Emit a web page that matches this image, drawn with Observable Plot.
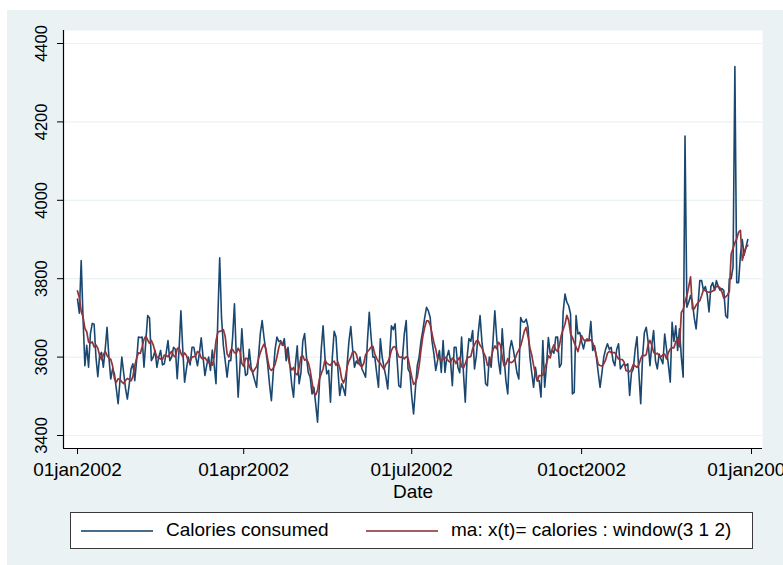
<!DOCTYPE html>
<html><head><meta charset="utf-8">
<script src="https://cdn.jsdelivr.net/npm/d3@7"></script>
<script src="https://cdn.jsdelivr.net/npm/@observablehq/plot@0.6"></script>
<style>
html,body{margin:0;padding:0;background:#fff;width:783px;height:565px;overflow:hidden;}
#bg{position:absolute;left:7px;top:10px;width:800px;height:560px;background:#EAF2F3;}
#chart{position:absolute;left:0;top:0;}
#legend{position:absolute;left:70px;top:512px;width:683px;height:37px;box-sizing:border-box;border:1px solid #3a3a3a;background:#fff;font-family:"Liberation Sans",Arial,sans-serif;font-size:19px;color:#000;}
#legend .sw{position:absolute;top:17px;width:72px;height:0;border-top:2px solid;}
#legend .lb{position:absolute;top:7px;white-space:nowrap;line-height:20px;}
</style>
</head><body>
<div id="bg"></div>
<div id="chart"></div>
<div id="legend"></div>
<script>
// ---- data ----
const startDate = "2002-01-01";
const calories = [
3748,3712,3846,3700,3578,3630,3574,3660,3686,3684,
3600,3550,3605,3612,3574,3620,3676,3600,3544,3570,
3557,3520,3481,3540,3600,3560,3520,3493,3530,3570,
3583,3540,3590,3651,3650,3651,3574,3640,3706,3700,
3591,3600,3617,3574,3600,3617,3580,3583,3610,3642,
3591,3600,3625,3620,3545,3620,3718,3620,3536,3570,
3600,3580,3625,3625,3600,3578,3610,3649,3600,3553,
3580,3600,3566,3618,3580,3532,3700,3853,3700,3629,
3590,3549,3591,3591,3650,3736,3600,3498,3580,3672,
3600,3553,3557,3620,3575,3557,3540,3523,3600,3660,
3693,3650,3617,3580,3530,3489,3560,3620,3651,3640,
3642,3630,3647,3591,3625,3580,3530,3498,3580,3629,
3532,3560,3640,3660,3600,3560,3549,3506,3523,3480,
3434,3530,3620,3680,3600,3557,3566,3485,3600,3666,
3651,3570,3502,3532,3520,3502,3580,3640,3678,3620,
3574,3590,3583,3600,3570,3560,3549,3640,3714,3650,
3600,3600,3560,3523,3647,3600,3574,3550,3519,3600,
3680,3670,3685,3600,3527,3523,3600,3660,3693,3570,
3560,3500,3455,3520,3578,3600,3640,3668,3700,3727,
3718,3701,3640,3608,3566,3591,3617,3561,3642,3561,
3600,3617,3591,3527,3625,3625,3574,3560,3651,3560,
3485,3600,3647,3640,3668,3570,3604,3660,3706,3640,
3600,3532,3527,3600,3574,3640,3718,3650,3590,3557,
3672,3600,3540,3506,3617,3642,3620,3591,3560,3544,
3701,3690,3689,3697,3676,3600,3560,3523,3574,3540,
3540,3498,3642,3523,3580,3650,3608,3617,3610,3651,
3651,3574,3583,3714,3761,3740,3731,3710,3506,3510,
3706,3659,3663,3640,3621,3642,3642,3642,3691,3617,
3629,3600,3560,3523,3560,3600,3620,3634,3620,3625,
3591,3578,3620,3634,3570,3578,3583,3578,3583,3502,
3560,3570,3620,3652,3560,3481,3600,3663,3676,3640,
3578,3630,3668,3590,3570,3608,3595,3583,3659,3620,
3580,3536,3689,3640,3680,3617,3672,3600,3549,4164,
3727,3740,3757,3740,3700,3672,3730,3795,3795,3770,
3780,3760,3715,3780,3790,3770,3795,3780,3770,3775,
3770,3706,3700,3800,3800,3830,4341,3790,3790,3860,
3900,3860,3880,3900
];
const yTicks = [3400, 3600, 3800, 4000, 4200, 4400];
const xTickDates = ["2002-01-01", "2002-04-01", "2002-07-01", "2002-10-01", "2003-01-01"];
const xDomainDates = ["2002-01-01", "2003-01-01"];
const seriesNames = ["Calories consumed", "ma: x(t)= calories : window(3 1 2)"];
const seriesColors = ["#1A476F", "#90353B"];
const maWindow = [3, 1, 2]; // lags, current, leads

// ---- derived ----
const t0 = new Date(startDate + "T00:00:00Z");
const rows = calories.map((v, i) => ({date: new Date(t0.getTime() + i * 864e5), calories: v}));
const maRows = calories.map((v, i) => {
  let s = 0, n = 0;
  for (let k = i - maWindow[0]; k <= i + maWindow[2]; k++) {
    if (k === i && !maWindow[1]) continue;
    if (k >= 0 && k < calories.length) { s += calories[k]; n++; }
  }
  return {date: rows[i].date, ma: s / n};
});
const parseD = s => new Date(s + "T00:00:00Z");
const fmt = d3.utcFormat("%d%b%Y");

const W = 783, H = 500;
const mL = 63, mR = 21, mT = 30, mB = 52;

const chart = Plot.plot({
  width: W, height: H,
  marginLeft: mL, marginRight: mR, marginTop: mT, marginBottom: mB,
  style: {background: "transparent", fontFamily: "'Liberation Sans', Arial, sans-serif", fontSize: "19px", color: "#000", overflow: "visible"},
  x: {type: "utc", domain: xDomainDates.map(parseD), insetLeft: 14, insetRight: 11},
  y: {domain: [yTicks[0], yTicks[yTicks.length - 1]], insetTop: 13, insetBottom: 13},
  marks: [
    Plot.frame({fill: "white", stroke: "none"}),
    Plot.gridY(yTicks, {stroke: "#EAF2F3", strokeOpacity: 1, strokeWidth: 1.2}),
    Plot.line(rows, {x: "date", y: "calories", stroke: seriesColors[0], strokeWidth: 1.6}),
    Plot.line(maRows, {x: "date", y: "ma", stroke: seriesColors[1], strokeWidth: 1.7}),
    Plot.axisY(yTicks, {anchor: "left", tickSize: 6, tickPadding: 11, tickRotate: -90, fontSize: 16.5, tickFormat: d => String(d), label: null, stroke: "#000"}),
    Plot.axisX(xTickDates.map(parseD), {anchor: "bottom", tickSize: 6, tickPadding: 8, fontSize: 19, tickFormat: d => fmt(d).toLowerCase(), label: "Date", labelAnchor: "center", labelArrow: "none", stroke: "#000"})
  ]
});
document.getElementById("chart").appendChild(chart);

// axis lines along the left and bottom of the plot region
const svg = d3.select(chart);
svg.append("line").attr("x1", mL + 0.5).attr("x2", mL + 0.5).attr("y1", mT).attr("y2", H - mB)
  .attr("stroke", "#000").attr("stroke-width", 1.2);
svg.append("line").attr("x1", mL).attr("x2", W - mR).attr("y1", H - mB + 0.5).attr("y2", H - mB + 0.5)
  .attr("stroke", "#000").attr("stroke-width", 1.2);

// legend
const lg = document.getElementById("legend");
const swX = [10, 295], lbX = [95, 380];
seriesNames.forEach((name, i) => {
  const sw = document.createElement("div");
  sw.className = "sw"; sw.style.left = swX[i] + "px"; sw.style.borderColor = seriesColors[i]; sw.style.opacity = 0.8;
  lg.appendChild(sw);
  const lb = document.createElement("div");
  lb.className = "lb"; lb.style.left = lbX[i] + "px"; lb.textContent = name;
  lg.appendChild(lb);
});
</script>
</body></html>
